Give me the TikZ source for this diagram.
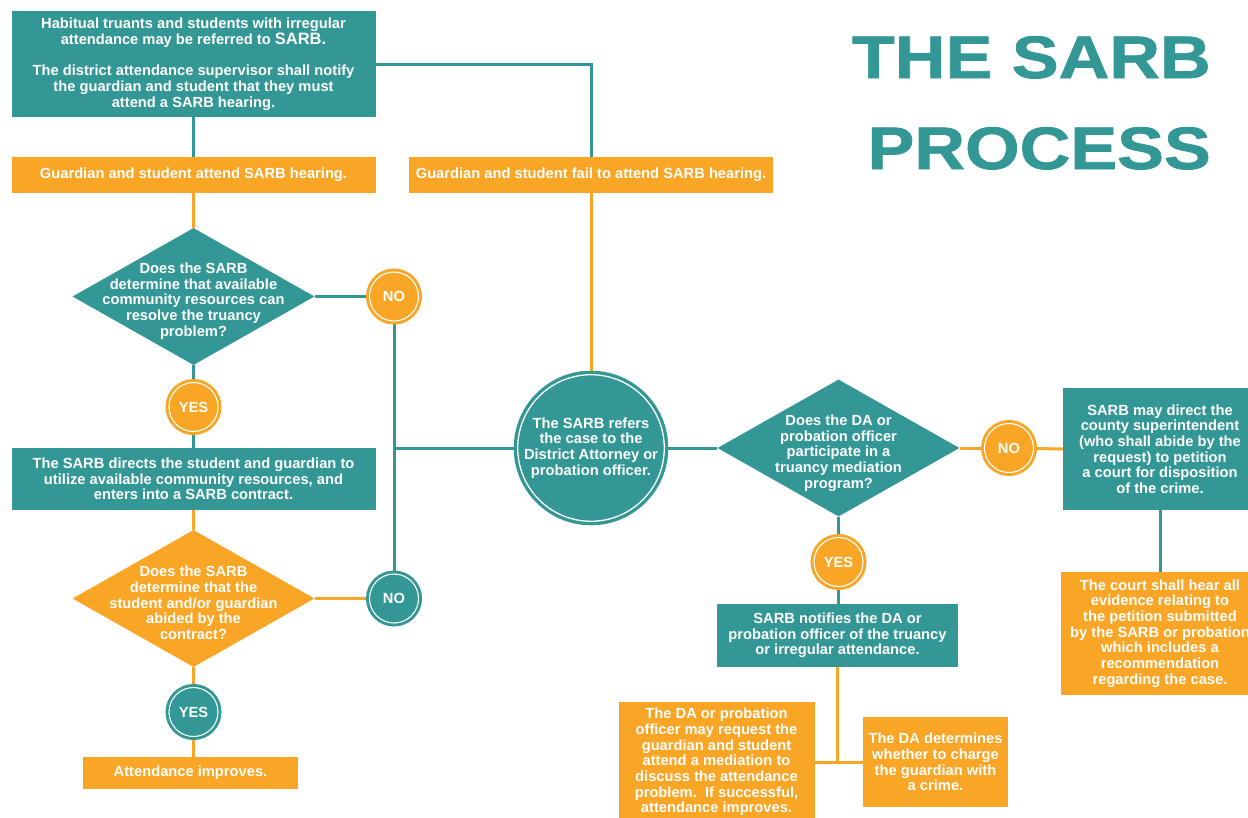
\documentclass[tikz,border=0pt]{standalone}
\usepackage{fontspec}
\setmainfont{Liberation Sans}
\newfontfamily\titlefont[FakeStretch=1.17,FakeBold=1.2]{Liberation Sans}
\usetikzlibrary{shapes.geometric,backgrounds}
\definecolor{tealc}{RGB}{50,151,149}
\definecolor{orangec}{RGB}{249,165,37}
\tikzset{
  txt/.style={text=white, font=\bfseries\fontsize{14.7}{15.7}\selectfont, align=center, inner sep=0pt},
  boxnode/.style={txt, rectangle},
  tbox/.style={boxnode, fill=tealc},
  obox/.style={boxnode, fill=orangec},
  decision/.style={diamond, inner sep=0pt, minimum width=242pt, minimum height=137pt},
  ring/.style={circle, inner sep=0pt, txt, draw=white, line width=1.1pt, minimum size=49pt},
  oring/.style={ring, fill=orangec, preaction={fill=orangec, draw=orangec, line width=7pt}},
  tring/.style={ring, fill=tealc, preaction={fill=tealc, draw=tealc, line width=7pt}},
  tline/.style={draw=tealc, line width=3pt},
  oline/.style={draw=orangec, line width=3pt},
  titletext/.style={text=tealc, inner sep=0pt, font=\titlefont\bfseries\fontsize{60}{60}\selectfont}
}
\begin{document}
\begin{tikzpicture}[x=1pt,y=-1pt]
\useasboundingbox (0,0) rectangle (1248,817);

% title
\node[titletext, anchor=base east] (t1) at (1211,78) {THE SARB};
\node[titletext, anchor=base east] (t2) at (1211,169) {PROCESS};

% left column
\node[tbox, minimum width=364pt, minimum height=106pt] (top) at (193.5,64)
  {Habitual truants and students with irregular\\attendance may be referred to {\bfseries\fontsize{16.5}{15.7}\selectfont SARB.}\\[15.7pt]
   The district attendance supervisor shall notify\\the guardian and student that they must\\attend a SARB hearing.};
\node[obox, minimum width=364pt, minimum height=36pt] (g1) at (193.5,175) {Guardian and student attend SARB hearing.};
\node[obox, minimum width=364pt, minimum height=36pt] (g2) at (591,175) {Guardian and student fail to attend SARB hearing.};

\node[decision, fill=tealc] (d1) at (193.5,296.5) {};
\node[txt] (d1t) at (193.5,301) {Does the SARB\\determine that available\\community resources can\\resolve the truancy\\problem?};
\node[oring] (no1) at (394,296.5) {NO};
\node[oring] (yes1) at (193.5,407) {YES};
\node[tbox, minimum width=364pt, minimum height=62pt] (dir) at (193.5,479)
  {The SARB directs the student and guardian to\\utilize available community resources, and\\enters into a SARB contract.};

\node[decision, fill=orangec] (d2) at (193.5,598.5) {};
\node[txt] (d2t) at (193.5,603) {Does the SARB\\determine that the\\student and/or guardian\\abided by the\\contract?};
\node[tring] (no2) at (394,598.5) {NO};
\node[tring] (yes2) at (193.5,712) {YES};
\node[obox, minimum width=215pt, minimum height=32pt] (att) at (190.5,773) {Attendance improves.};

% middle
\node[circle, fill=tealc, draw=white, line width=1.3pt, minimum size=144pt, txt,
      preaction={fill=tealc, draw=tealc, line width=8pt}] (bc) at (591,448)
  {The SARB refers\\the case to the\\District Attorney or\\probation officer.};

\node[decision, fill=tealc] (d3) at (838.5,448) {};
\node[txt] (d3t) at (838.5,453) {Does the DA or\\probation officer\\participate in a\\truancy mediation\\program?};
\node[oring] (no3) at (1009,448) {NO};
\node[tbox, minimum width=194pt, minimum height=122pt] (rb) at (1160,449)
  {SARB may direct the\\county superintendent\\(who shall abide by the\\request) to petition\\a court for disposition\\of the crime.};
\node[obox, minimum width=198pt, minimum height=123pt] (cb) at (1160,633.5)
  {The court shall hear all\\evidence relating to\\the petition submitted\\by the SARB or probation\\which includes a\\recommendation\\regarding the case.};

\node[oring] (yes3) at (838.5,562) {YES};
\node[tbox, minimum width=241pt, minimum height=63pt] (notif) at (837.5,635.5)
  {SARB notifies the DA or\\probation officer of the truancy\\or irregular attendance.};
\node[obox, minimum width=196pt, minimum height=120pt] (lb) at (716.5,762)
  {The DA or probation\\officer may request the\\guardian and student\\attend a mediation to\\discuss the attendance\\problem.\ \ If successful,\\attendance improves.};
\node[obox, minimum width=145pt, minimum height=90pt] (rb2) at (935.5,762)
  {The DA determines\\whether to charge\\the guardian with\\a crime.};

\coordinate (j1) at (no1 |- bc);
\coordinate (j2) at (notif.south |- lb.east);

\begin{pgfonlayer}{background}
\fill[white] (0,0) rectangle (1248,817);
\draw[tline] (top.south) -- (g1.north);
\draw[tline] (top.east) -| (g2.north);
\draw[oline] (g1.south) -- (d1.north);
\draw[tline] (d1.east) -- (no1);
\draw[tline] (d1.south) -- (yes1);
\draw[tline] (yes1) -- (dir.north);
\draw[oline] (dir.south) -- (d2.north);
\draw[oline] (d2.east) -- (no2);
\draw[oline] (d2.south) -- (yes2);
\draw[oline] (yes2) -- (yes2 |- att.north);
\draw[tline] (no1) -- (no2);
\draw[tline] (j1) -- (bc);
\draw[oline] (g2.south) -- (bc);
\draw[tline] (bc) -- (d3.west);
\draw[oline] (d3.east) -- (no3);
\draw[oline] (no3) -- (rb.west);
\draw[tline] (rb.south) -- (cb.north);
\draw[tline] (d3.south) -- (yes3);
\draw[tline] (yes3) -- (notif.north -| yes3);
\draw[oline] (notif.south) -- (j2);
\draw[oline] (lb.east) -- (rb2.west);
\end{pgfonlayer}
\end{tikzpicture}
\end{document}
